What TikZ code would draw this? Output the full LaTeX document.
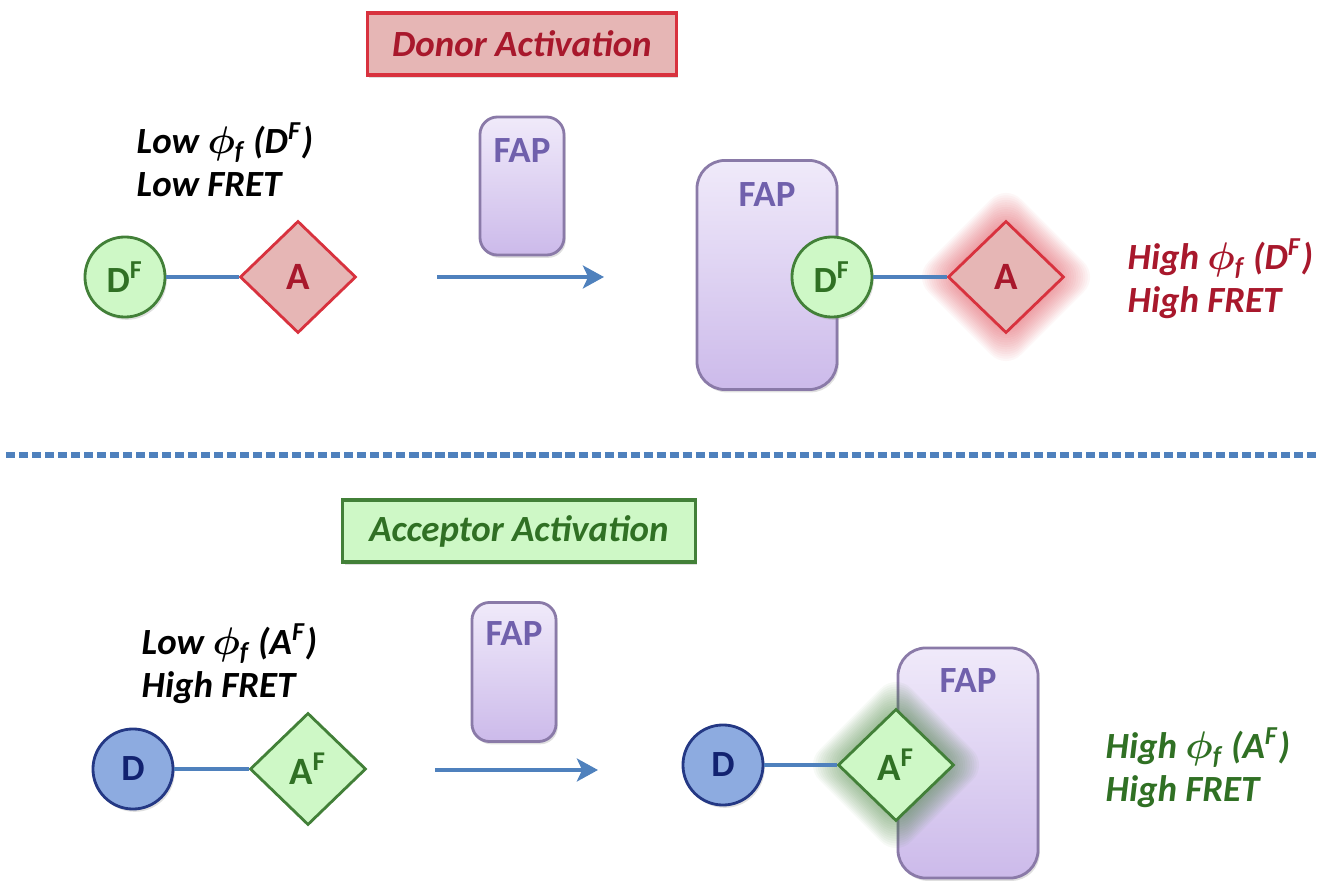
\documentclass[tikz,border=0pt]{standalone}
\usepackage{fontspec}
\setmainfont{Carlito}
\usetikzlibrary{positioning,shapes.geometric,arrows.meta,shadows}

\definecolor{lineblue}{RGB}{79,129,189}
\definecolor{pinkfill}{RGB}{230,182,181}
\definecolor{redline}{RGB}{216,50,62}
\definecolor{redtext}{RGB}{168,24,44}
\definecolor{greenfill}{RGB}{206,248,198}
\definecolor{greenline}{RGB}{66,128,56}
\definecolor{greentext}{RGB}{48,112,36}
\definecolor{bluefill}{RGB}{141,171,224}
\definecolor{blueline}{RGB}{36,56,132}
\definecolor{bluetext}{RGB}{18,34,112}
\definecolor{faptop}{RGB}{240,234,250}
\definecolor{fapbot}{RGB}{204,186,234}
\definecolor{fapline}{RGB}{138,122,168}
\definecolor{faptext}{RGB}{112,96,172}

\begin{document}
\begin{tikzpicture}[x=0.01cm,y=-0.01cm,
  every node/.style={font=\fontsize{10.5}{12.2}\selectfont\bfseries},
  link/.style={draw=lineblue,line width=1.3pt},
  flow/.style={draw=lineblue,line width=1.4pt,-{Stealth[length=6pt,width=6.5pt,inset=1.5pt]}},
  sep/.style={draw=lineblue,line width=1.7pt,dash pattern=on 2.6pt off 1.1pt},
  shade/.style={drop shadow={opacity=0.25,shadow xshift=0.5pt,shadow yshift=-0.8pt}},
  titlebox/.style={rectangle,line width=0.9pt,minimum height=0.62cm,shade,
    font=\fontsize{10.5}{12}\selectfont\bfseries\itshape},
  cond/.style={align=left,anchor=west,inner sep=0pt,
    font=\fontsize{10.5}{12.2}\selectfont\bfseries\itshape},
  dye/.style={circle,minimum size=0.8cm,inner sep=0pt,line width=0.8pt,shade,
    font=\fontsize{10.5}{12}\selectfont\bfseries},
  quench/.style={diamond,minimum width=1.16cm,minimum height=1.12cm,inner sep=0pt,
    line width=0.8pt,font=\fontsize{11}{12}\selectfont\bfseries},
  fapbox/.style={rectangle,rounded corners=#1,draw=fapline,line width=0.8pt,
    top color=faptop,bottom color=fapbot,shade},
  faptxt/.style={inner sep=0pt,text=faptext,font=\fontsize{10.5}{12}\selectfont\bfseries}]

  \useasboundingbox (0,0) rectangle (1320,882);

  % donor activation
  \node[titlebox,fill=pinkfill,draw=redline,text=redtext,minimum width=3.09cm] (donor) at (522,44) {Donor Activation};
  \node[cond] (low1) at (136,160) {Low {\boldmath$\phi$}\textsubscript{f} (D\textsuperscript{F})\\Low FRET};
  \node[dye,fill=greenfill,draw=greenline,text=greentext] (df1) at (125,277) {D\textsuperscript{F}};
  \node[quench,fill=pinkfill,draw=redline,text=redtext] (a1) at (298,277) {A};
  \draw[link] (df1) -- (a1);

  \node[fapbox=5pt,minimum width=0.84cm,minimum height=1.38cm] (fap1) at (522,186) {};
  \node[faptxt,below=0.22cm of fap1.north] (fap1t) {FAP};
  \coordinate (go1) at (437,277);
  \coordinate (to1) at (604,277);
  \draw[flow] (go1) -- (to1);

  \node[fapbox=8pt,minimum width=1.4cm,minimum height=2.29cm] (fap2) at (767,275) {};
  \node[faptxt,below=0.23cm of fap2.north] (fap2t) {FAP};
  \node[dye,fill=greenfill,draw=greenline,text=greentext] (df2) at (832,277) {D\textsuperscript{F}};
  \foreach \g in {1,...,16}
    \fill[redline,opacity=0.04,rounded corners=6pt] (1006,277) ++(-56-2.3*\g,0) -- ++(56+2.3*\g,-56-2.3*\g)
      -- ++(56+2.3*\g,56+2.3*\g) -- ++(-56-2.3*\g,56+2.3*\g) -- cycle;
  \node[quench,fill=pinkfill,draw=redline,text=redtext] (a2) at (1006,277) {A};
  \draw[link] (df2) -- (a2);
  \node[cond,text=redtext] (high1) at (1127,279) {High {\boldmath$\phi$}\textsubscript{f} (D\textsuperscript{F})\\High FRET};

  \coordinate (sepL) at (6,455);
  \coordinate (sepR) at (1320,455);
  \draw[sep] (sepL) -- (sepR);

  % acceptor activation
  \node[titlebox,fill=greenfill,draw=greenline,text=greentext,minimum width=3.52cm] (acc) at (519,531) {Acceptor Activation};
  \node[cond] (low2) at (141,664) {Low {\boldmath$\phi$}\textsubscript{f} (A\textsuperscript{F})\\High FRET};
  \node[dye,fill=bluefill,draw=blueline,text=bluetext] (d1) at (133,769) {D};
  \node[quench,fill=greenfill,draw=greenline,text=greentext] (af1) at (308,769) {A\textsuperscript{F}};
  \draw[link] (d1) -- (af1);

  \node[fapbox=5pt,minimum width=0.84cm,minimum height=1.39cm] (fap3) at (514,672) {};
  \node[faptxt,below=0.2cm of fap3.north] (fap3t) {FAP};
  \coordinate (go2) at (435,770);
  \coordinate (to2) at (598,770);
  \draw[flow] (go2) -- (to2);

  \node[fapbox=8pt,minimum width=1.4cm,minimum height=2.3cm] (fap4) at (968,763) {};
  \node[faptxt,below=0.21cm of fap4.north] (fap4t) {FAP};
  \node[dye,fill=bluefill,draw=blueline,text=bluetext] (d2) at (723,765) {D};
  \foreach \g in {1,...,16}
    \fill[greenline,opacity=0.045,rounded corners=6pt] (896,765) ++(-55-2.3*\g,0) -- ++(55+2.3*\g,-55-2.3*\g)
      -- ++(55+2.3*\g,55+2.3*\g) -- ++(-55-2.3*\g,55+2.3*\g) -- cycle;
  \node[quench,fill=greenfill,draw=greenline,text=greentext] (af2) at (896,765) {A\textsuperscript{F}};
  \draw[link] (d2) -- (af2);
  \node[cond,text=greentext] (high2) at (1105,768) {High {\boldmath$\phi$}\textsubscript{f} (A\textsuperscript{F})\\High FRET};
\end{tikzpicture}
\end{document}
